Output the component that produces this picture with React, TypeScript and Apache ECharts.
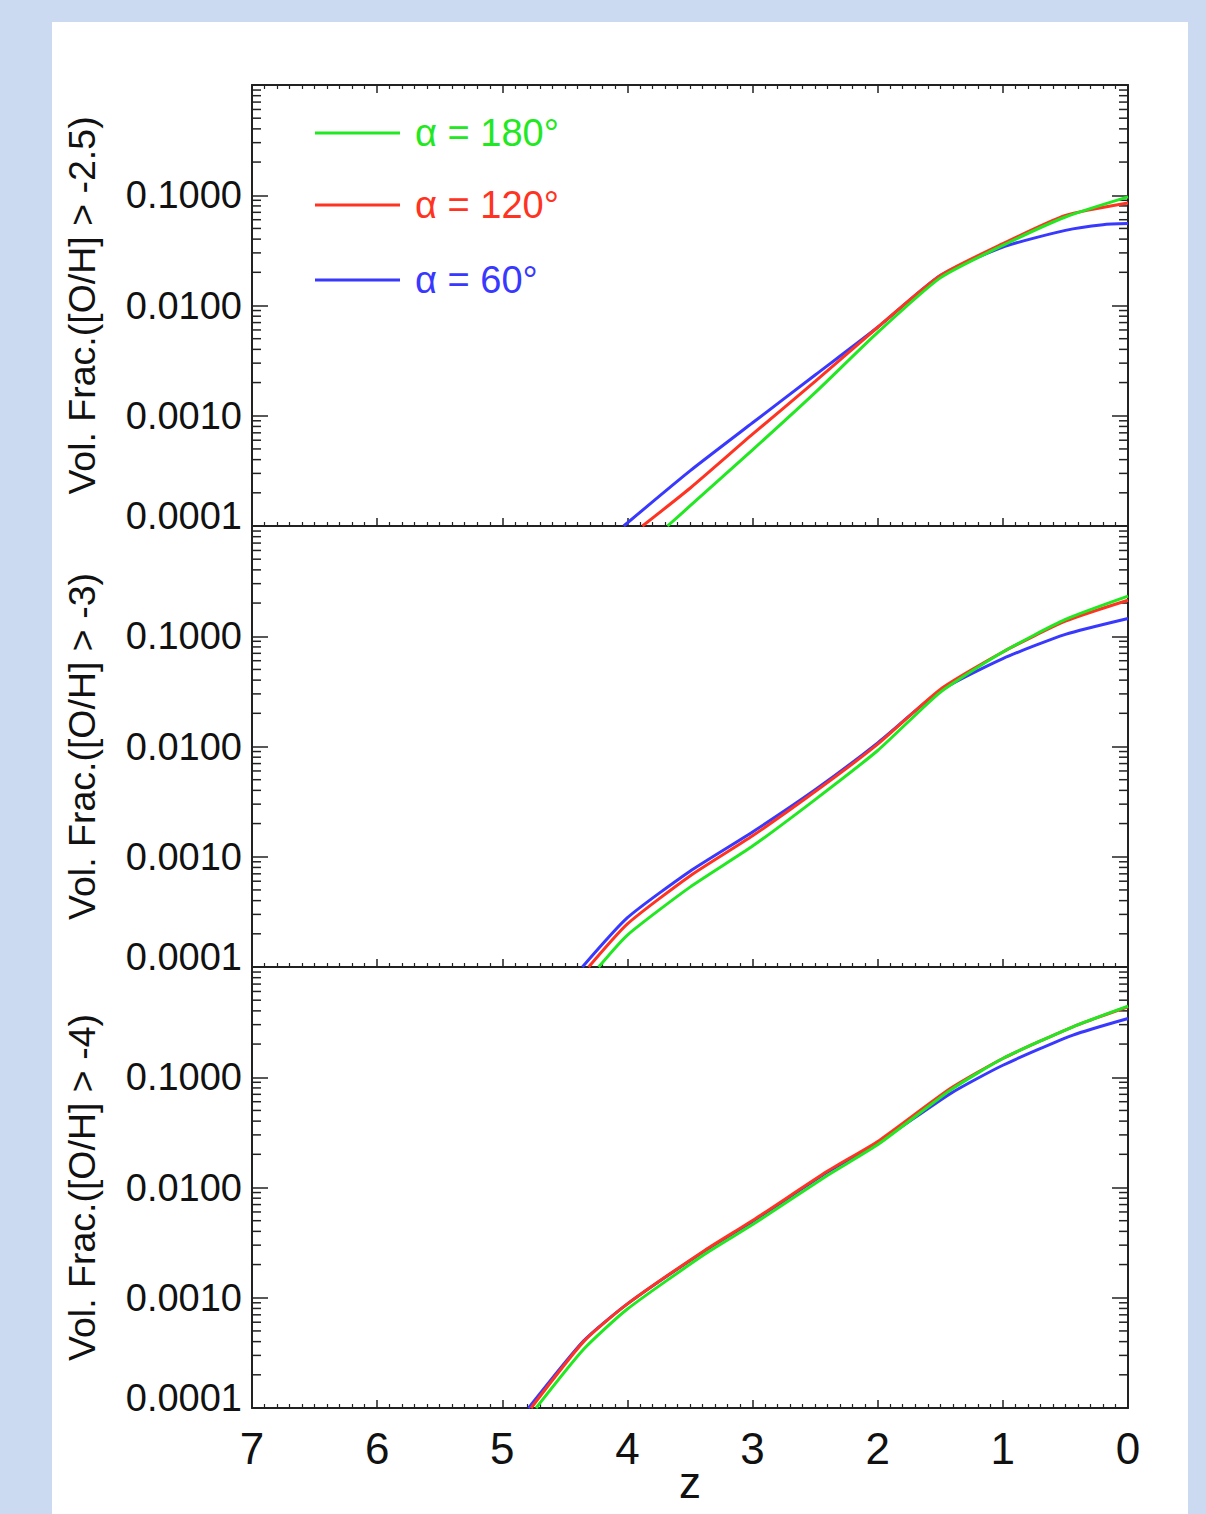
import React, { useEffect, useRef } from "react";
import * as echarts from "echarts";

// ---- Data (z = redshift, values = volume fraction) ----
// Panel 1: [O/H] > -2.5
const p1Z180 = [3.68, 3.5, 3.0, 2.5, 2.0, 1.5, 1.0, 0.5, 0.0];
const p1V180 = [1e-4, 1.52e-4, 4.9e-4, 1.62e-3, 5.7e-3, 0.0178, 0.0351, 0.0635, 0.0966];
const p1Z120 = [3.88, 3.5, 3.0, 2.5, 2.0, 1.5, 1.0, 0.5, 0.0];
const p1V120 = [1e-4, 2.2e-4, 6.8e-4, 2.05e-3, 6.35e-3, 0.0187, 0.0364, 0.0656, 0.0851];
const p1Z60 = [4.03, 3.5, 3.0, 2.5, 2.0, 1.5, 1.0, 0.5, 0.2, 0.0];
const p1V60 = [1e-4, 3.16e-4, 8.63e-4, 2.34e-3, 6.35e-3, 0.0187, 0.0339, 0.048, 0.054, 0.0553];

// Panel 2: [O/H] > -3
const p2Z180 = [4.23, 4.0, 3.5, 3.0, 2.5, 2.0, 1.5, 1.0, 0.5, 0.0];
const p2V180 = [1e-4, 1.95e-4, 5.3e-4, 1.25e-3, 3.3e-3, 0.0092, 0.031, 0.072, 0.142, 0.231];
const p2Z120 = [4.31, 4.0, 3.5, 3.0, 2.5, 2.0, 1.5, 1.0, 0.5, 0.0];
const p2V120 = [1e-4, 2.46e-4, 6.7e-4, 1.55e-3, 3.9e-3, 0.0105, 0.033, 0.072, 0.137, 0.212];
const p2Z60 = [4.36, 4.0, 3.5, 3.0, 2.5, 2.0, 1.5, 1.0, 0.5, 0.0];
const p2V60 = [1e-4, 2.8e-4, 7.4e-4, 1.68e-3, 4.05e-3, 0.0108, 0.032, 0.0627, 0.104, 0.145];

// Panel 3: [O/H] > -4
const p3Z180 = [4.73, 4.35, 4.0, 3.38, 2.99, 2.4, 1.99, 1.42, 1.0, 0.44, 0.0];
const p3V180 = [1e-4, 3.41e-4, 7.9e-4, 2.49e-3, 4.68e-3, 0.0129, 0.0249, 0.0762, 0.148, 0.287, 0.442];
const p3Z120 = [4.77, 4.35, 4.0, 3.38, 2.99, 2.4, 1.99, 1.42, 1.0, 0.44, 0.0];
const p3V120 = [1e-4, 4.0e-4, 8.8e-4, 2.7e-3, 5.1e-3, 0.0141, 0.0266, 0.0789, 0.148, 0.287, 0.436];
const p3Z60 = [4.79, 4.35, 4.0, 3.38, 2.99, 2.4, 1.99, 1.42, 1.0, 0.44, 0.0];
const p3V60 = [1e-4, 4.07e-4, 8.8e-4, 2.67e-3, 5.0e-3, 0.0138, 0.0258, 0.071, 0.1285, 0.241, 0.341];

const seriesNames = ["α = 180°", "α = 120°", "α = 60°"];
const panelTitles = [
  "Vol. Frac.([O/H] > -2.5)",
  "Vol. Frac.([O/H] > -3)",
  "Vol. Frac.([O/H] > -4)",
];
const xTickLabels = ["0", "1", "2", "3", "4", "5", "6", "7"];
const minorFactors = [2, 3, 4, 5, 6, 7, 8, 9];
const decades = [1e-4, 1e-3, 1e-2, 1e-1];

const COLORS = { "α = 180°": "#22e822", "α = 120°": "#ff3322", "α = 60°": "#3838ff" };
const FONT = "'Liberation Sans', Arial, Helvetica, sans-serif";
const INK = "#111111";

const panels = [
  { z: [p1Z60, p1Z120, p1Z180], v: [p1V60, p1V120, p1V180] },
  { z: [p2Z60, p2Z120, p2Z180], v: [p2V60, p2V120, p2V180] },
  { z: [p3Z60, p3Z120, p3Z180], v: [p3V60, p3V120, p3V180] },
];
const drawOrder = ["α = 60°", "α = 120°", "α = 180°"];

const GRID_LEFT = 252;
const GRID_WIDTH = 876;
const GRID_TOPS = [85, 526, 967];
const GRID_H = 441;

function buildOption() {
  const grid = GRID_TOPS.map((t) => ({
    left: GRID_LEFT,
    top: t,
    width: GRID_WIDTH,
    height: GRID_H,
    containLabel: false,
    outerBoundsMode: "none",
  }));

  const xAxis: any[] = [];
  const yAxis: any[] = [];
  const series: any[] = [];
  const minorData = [];
  for (const d of decades) for (const f of minorFactors) minorData.push([0, d * f]);

  const axisLine = { show: true, onZero: false, lineStyle: { color: "#222", width: 2 } };

  GRID_TOPS.forEach((_, gi) => {
    const last = gi === GRID_TOPS.length - 1;
    const bottomIdx = xAxis.length;
    xAxis.push({
      type: "value",
      gridIndex: gi,
      position: "bottom",
      min: 0,
      max: 7,
      interval: 1,
      inverse: true,
      axisLine,
      axisTick: { show: true, inside: true, length: 8, lineStyle: { color: "#222", width: 1.5 } },
      minorTick: { show: true, splitNumber: 10, length: 4, lineStyle: { color: "#222", width: 1.2 } },
      splitLine: { show: false },
      axisLabel: last
        ? {
            show: true,
            margin: 18,
            fontSize: 44,
            fontFamily: FONT,
            color: INK,
            formatter: (v: number) => xTickLabels[Math.round(v)] ?? "",
          }
        : { show: false },
      name: last ? "z" : "",
      nameLocation: "middle",
      nameGap: 59,
      nameMoveOverlap: false,
      nameTextStyle: { fontSize: 44, lineHeight: 30, fontFamily: FONT, color: INK },
    });
    if (gi === 0) {
      xAxis.push({
        type: "value",
        gridIndex: gi,
        position: "top",
        min: 0,
        max: 7,
        interval: 1,
        inverse: true,
        axisLine,
        axisTick: { show: true, inside: true, length: 8, lineStyle: { color: "#222", width: 1.5 } },
        minorTick: { show: true, splitNumber: 10, length: 4, lineStyle: { color: "#222", width: 1.2 } },
        splitLine: { show: false },
        axisLabel: { show: false },
      });
    }
    const leftIdx = yAxis.length;
    yAxis.push({
      type: "log",
      logBase: 10,
      gridIndex: gi,
      position: "left",
      min: 1e-4,
      max: 1,
      axisLine,
      axisTick: { show: true, inside: true, length: 16, lineStyle: { color: "#222", width: 1.5 } },
      splitLine: { show: false },
      axisLabel: {
        show: true,
        margin: 10,
        fontSize: 38,
        fontFamily: FONT,
        color: INK,
        formatter: (v: number) => {
          if (v >= 0.5) return "";
          if (v < 1.5e-4) return "{lo|" + v.toFixed(4) + "}";
          return v.toFixed(4);
        },
        rich: {
          lo: { fontSize: 38, fontFamily: FONT, color: INK, padding: [0, 0, 20, 0] },
        },
      },
      name: panelTitles[gi],
      nameLocation: "middle",
      nameGap: 151,
      nameTextStyle: { fontSize: 37.5, fontFamily: FONT, color: INK },
    });
    yAxis.push({
      type: "log",
      logBase: 10,
      gridIndex: gi,
      position: "right",
      min: 1e-4,
      max: 1,
      axisLine,
      axisTick: { show: true, inside: true, length: 16, lineStyle: { color: "#222", width: 1.5 } },
      splitLine: { show: false },
      axisLabel: { show: false },
    });

    // log minor ticks (2..9 of each decade) on both sides
    series.push({
      type: "custom",
      xAxisIndex: bottomIdx,
      yAxisIndex: leftIdx,
      silent: true,
      clip: false,
      z: 1,
      encode: { x: 0, y: 1 },
      data: minorData,
      renderItem: (params: any, api: any) => {
        const val = api.value(1);
        const l = api.coord([7, val]);
        const r = api.coord([0, val]);
        const st = { stroke: "#222", lineWidth: 1.5 };
        return {
          type: "group",
          children: [
            { type: "line", shape: { x1: l[0], y1: l[1], x2: l[0] + 9, y2: l[1] }, style: st },
            { type: "line", shape: { x1: r[0] - 9, y1: r[1], x2: r[0], y2: r[1] }, style: st },
          ],
        };
      },
    });

    const p = panels[gi];
    drawOrder.forEach((name) => {
      const si = seriesNames.indexOf(name) === 0 ? 2 : seriesNames.indexOf(name) === 1 ? 1 : 0;
      const zs = p.z[si];
      const vs = p.v[si];
      series.push({
        type: "line",
        name,
        xAxisIndex: bottomIdx,
        yAxisIndex: leftIdx,
        data: zs.map((z, i) => [z, vs[i]]),
        showSymbol: false,
        symbol: "none",
        smooth: 0.2,
        clip: true,
        z: 3,
        lineStyle: { color: (COLORS as any)[name], width: 3 },
        itemStyle: { color: (COLORS as any)[name] },
      });
    });
  });

  const legendCenters = [133, 205, 280];
  const legend = seriesNames.map((name, i) => ({
    show: true,
    selectedMode: false,
    left: 315,
    top: legendCenters[i] - 19,
    padding: 0,
    orient: "vertical",
    icon: "rect",
    itemWidth: 85,
    itemHeight: 3,
    data: [
      {
        name,
        textStyle: { color: (COLORS as any)[name] },
      },
    ],
    textStyle: {
      fontSize: 38,
      fontFamily: FONT,
      color: (COLORS as any)[name],
      padding: [0, 0, 0, 10],
    },
  }));

  return {
    animation: false,
    backgroundColor: "transparent",
    grid,
    xAxis,
    yAxis,
    legend,
    series,
  };
}

export default function App() {
  const ref = useRef<HTMLDivElement>(null);
  useEffect(() => {
    if (!ref.current) return;
    const chart = echarts.init(ref.current, undefined, { renderer: "svg" });
    chart.setOption(buildOption() as any);
    return () => chart.dispose();
  }, []);
  return (
    <div
      style={{
        position: "absolute",
        left: 0,
        top: 0,
        width: 1206,
        height: 1514,
        overflow: "hidden",
        background: "#cbd9f1",
      }}
    >
      <div
        style={{
          position: "absolute",
          left: 52,
          top: 22,
          width: 1136,
          height: 1492,
          background: "#ffffff",
        }}
      />
      <div ref={ref} style={{ position: "absolute", left: 0, top: 0, width: 1206, height: 1514 }} />
    </div>
  );
}
